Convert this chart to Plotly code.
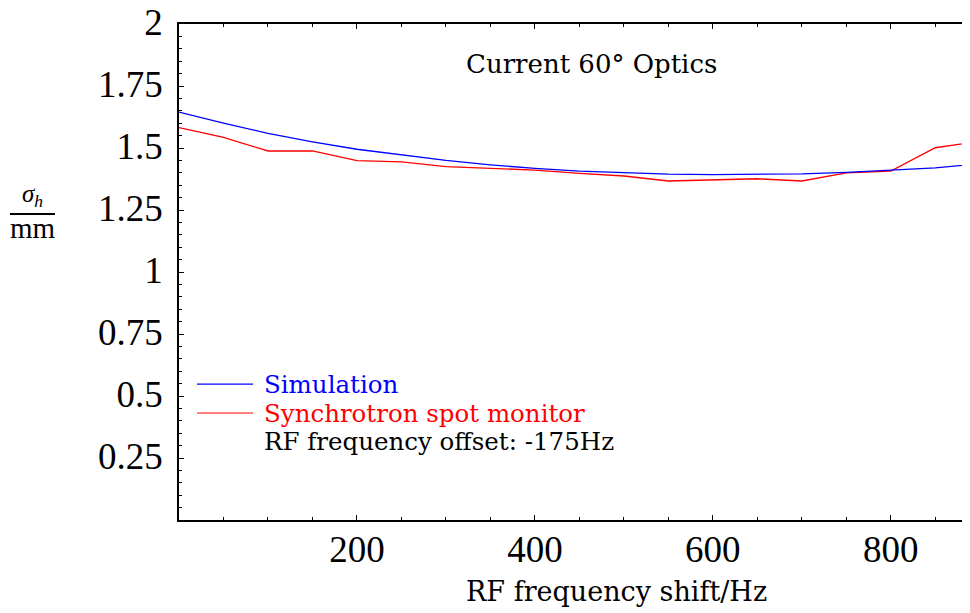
import plotly.graph_objects as go

# RF frequency shift (Hz)
shift = [0, 50, 100, 150, 200, 250, 300, 350, 400, 450,
         500, 550, 600, 650, 700, 750, 800, 850, 900]
# simulated sigma_h (mm)
sim = [1.645, 1.600, 1.559, 1.525, 1.495, 1.471, 1.450, 1.432, 1.418, 1.407,
       1.400, 1.395, 1.393, 1.393, 1.396, 1.402, 1.410, 1.420, 1.436]
# measured with synchrotron spot monitor (mm)
meas = [1.582, 1.543, 1.488, 1.488, 1.449, 1.444, 1.425, 1.418, 1.411, 1.398,
        1.387, 1.367, 1.372, 1.376, 1.367, 1.400, 1.407, 1.501, 1.527]

xticks = [200, 400, 600, 800]
yticks = [0.25, 0.5, 0.75, 1, 1.25, 1.5, 1.75, 2]
ytext = ["0.25", "0.5", "0.75", "1", "1.25", "1.5", "1.75", "2"]

NUM = "Liberation Serif"
TXT = "DejaVu Serif"

fig = go.Figure()
fig.add_trace(go.Scatter(x=shift, y=meas, mode="lines", name="Synchrotron spot monitor",
                         line=dict(color="#ff0000", width=1.3)))
fig.add_trace(go.Scatter(x=shift, y=sim, mode="lines", name="Simulation",
                         line=dict(color="#0000ff", width=1.3)))

fig.update_xaxes(range=[0, 889], tickvals=xticks, ticks="inside", ticklen=5,
                 tickcolor="black", showline=True, linecolor="black", linewidth=1.5,
                 mirror="ticks", showgrid=False, zeroline=False, ticklabelstandoff=-4,
                 ticklabeloverflow="allow", automargin=False,
                 tickfont=dict(family=NUM, size=37, color="black"),
                 minor=dict(dtick=50, ticks="inside", ticklen=3, tickcolor="black"))
fig.update_yaxes(range=[0, 2], tickvals=yticks, ticktext=ytext, ticks="inside",
                 ticklen=5, tickcolor="black", showline=True, linecolor="black",
                 linewidth=1.5, showgrid=False, zeroline=False, ticklabelstandoff=7,
                 ticklabelshift=-2, ticklabeloverflow="allow", automargin=False,
                 tickfont=dict(family=NUM, size=37, color="black"),
                 minor=dict(dtick=0.05, ticks="inside", ticklen=3, tickcolor="black"))

fig.add_annotation(text="Current 60° Optics", xref="paper", yref="paper",
                   x=0.521, y=0.919, xanchor="center", yanchor="middle", showarrow=False,
                   font=dict(family=TXT, size=26, color="black"))

fig.add_annotation(text="RF frequency shift/Hz", xref="paper", yref="paper",
                   x=0.5525, y=-0.144, xanchor="center", yanchor="middle", showarrow=False,
                   font=dict(family=TXT, size=27, color="black"))

# legend drawn by hand
leg = [("Simulation", "#0000ff", 0.274), ("Synchrotron spot monitor", "#ff0000", 0.2157)]
for name, col, yy in leg:
    fig.add_shape(type="line", xref="paper", yref="paper", x0=0.0228, x1=0.0936,
                  y0=yy, y1=yy, line=dict(color=col, width=1.2))
    fig.add_annotation(text=name, xref="paper", yref="paper", x=0.105, y=yy,
                       xanchor="left", yanchor="middle", showarrow=False,
                       font=dict(family=TXT, size=24.5, color=col))
fig.add_annotation(text="RF frequency offset: -175Hz", xref="paper", yref="paper",
                   x=0.105, y=0.158, xanchor="left", yanchor="middle", showarrow=False,
                   font=dict(family=TXT, size=24.5, color="black"))

# y-axis label as a fraction
fig.add_annotation(text="<i>σ</i><sub><i>h</i></sub>", xref="paper", yref="paper",
                   x=-0.185, y=0.655, xanchor="center", yanchor="middle", showarrow=False,
                   font=dict(family=NUM, size=25, color="black"))
fig.add_annotation(text="mm", xref="paper", yref="paper",
                   x=-0.185, y=0.589, xanchor="center", yanchor="middle", showarrow=False,
                   font=dict(family=NUM, size=29, color="black"))
fig.add_shape(type="line", xref="paper", yref="paper", x0=-0.2137, x1=-0.1568,
              y0=0.617, y1=0.617, line=dict(color="black", width=2))

# page body adds an 8px margin, so the figure is 8px smaller and shifted margins
fig.update_layout(width=962, height=605, plot_bgcolor="white", paper_bgcolor="white",
                  showlegend=False, margin=dict(l=171, r=0, t=16, b=93))

fig.write_html("out.html")
